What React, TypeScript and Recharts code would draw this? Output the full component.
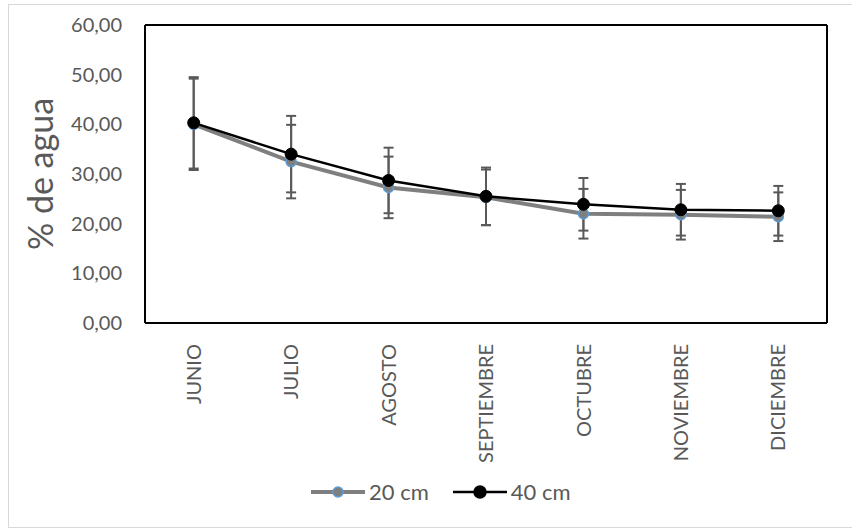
import { CartesianGrid, ErrorBar, Legend, Line, LineChart, XAxis, YAxis } from "recharts";

const months = ["JUNIO", "JULIO", "AGOSTO", "SEPTIEMBRE", "OCTUBRE", "NOVIEMBRE", "DICIEMBRE"];
const agua20 = [40.0, 32.5, 27.3, 25.3, 22.0, 21.8, 21.4];
const err20 = [9.2, 7.4, 6.2, 5.6, 5.0, 5.0, 4.9];
const agua40 = [40.3, 34.0, 28.7, 25.5, 23.9, 22.8, 22.6];
const err40 = [9.2, 7.7, 6.6, 5.8, 5.3, 5.2, 5.0];
const yTicks = [0, 10, 20, 30, 40, 50, 60];

const data = months.map((month, i) => ({
  month,
  v20: agua20[i],
  e20: err20[i],
  v40: agua40[i],
  e40: err40[i],
}));

const FONT = "Lato, sans-serif";
const TEXT = "#595959";

const legendStyle: Record<string, { line: string; width: number; fill: string; stroke: string; r: number }> = {
  v20: { line: "#7f7f7f", width: 4, fill: "#7f7f7f", stroke: "#5b9bd5", r: 5 },
  v40: { line: "#000000", width: 2.5, fill: "#000000", stroke: "#000000", r: 6 },
};

function MonthTick({ x, y, payload }: { x?: number; y?: number; payload?: { value: string } }) {
  const ty = (y ?? 0) + 19;
  return (
    <text
      x={x}
      y={ty}
      transform={`rotate(-90, ${x}, ${ty})`}
      textAnchor="end"
      dy="0.36em"
      fill={TEXT}
      fontSize={20}
      fontFamily={FONT}
    >
      {payload?.value}
    </text>
  );
}

function LegendContent({ payload }: { payload?: { value: string; dataKey?: string }[] }) {
  return (
    <div style={{ display: "flex", alignItems: "center", fontFamily: FONT, fontSize: 22, color: TEXT }}>
      {(payload ?? []).map((item) => {
        const s = legendStyle[String(item.dataKey)];
        return (
          <div key={item.value} style={{ display: "flex", alignItems: "center", marginRight: 23 }}>
            <svg width={56} height={24}>
              <line x1={1} y1={12} x2={55} y2={12} stroke={s.line} strokeWidth={s.width} />
              <circle cx={28} cy={12} r={s.r} fill={s.fill} stroke={s.stroke} strokeWidth={1.5} />
            </svg>
            <span style={{ marginLeft: 3 }}>{item.value}</span>
          </div>
        );
      })}
    </div>
  );
}

type GridArgs = { offset: { top: number; left: number; width: number; height: number } };

export default function App() {
  return (
    <div style={{ position: "absolute", left: 0, top: 0, width: 852, height: 528, overflow: "hidden", background: "#fff" }}>
      <div style={{ position: "absolute", left: 8, top: 4, width: 860, height: 522, border: "1px solid #d9d9d9" }} />
      <LineChart width={852} height={528} data={data} margin={{ top: 25, right: 25, bottom: 0, left: 0 }}>
        {/* plot frame */}
        <CartesianGrid
          stroke="#000"
          strokeWidth={2}
          horizontalCoordinatesGenerator={({ offset }: GridArgs) => [offset.top, offset.top + offset.height]}
          verticalCoordinatesGenerator={({ offset }: GridArgs) => [offset.left, offset.left + offset.width]}
        />
        <XAxis
          dataKey="month"
          height={205}
          padding={{ left: 48.7, right: 48.7 }}
          tickLine={false}
          tickSize={0}
          axisLine={{ stroke: "#000", strokeWidth: 2 }}
          tick={<MonthTick />}
          interval={0}
        />
        <YAxis
          width={145}
          domain={[0, 60]}
          ticks={yTicks}
          tickLine={false}
          tickSize={0}
          tickMargin={23}
          axisLine={{ stroke: "#000", strokeWidth: 2 }}
          tick={{ fill: TEXT, fontSize: 20, fontFamily: FONT }}
          tickFormatter={(v: number) => v.toFixed(2).replace(".", ",")}
          label={{
            content: () => (
              <text
                x={41}
                y={174}
                transform="rotate(-90, 41, 174)"
                textAnchor="middle"
                dy="0.35em"
                fill={TEXT}
                fontSize={34}
                fontFamily={FONT}
              >
                % de agua
              </text>
            ),
          }}
        />
        <Legend
          layout="horizontal"
          verticalAlign="middle"
          align="center"
          wrapperStyle={{ top: 478, left: 310, width: 400, height: 24 }}
          content={<LegendContent />}
        />
        <Line
          dataKey="v20"
          name="20 cm"
          stroke="#7f7f7f"
          strokeWidth={4}
          dot={{ r: 5, fill: "#7f7f7f", stroke: "#5b9bd5", strokeWidth: 1.5 }}
          isAnimationActive={false}
        >
          <ErrorBar dataKey="e20" direction="y" width={5} stroke="#595959" strokeWidth={2} />
        </Line>
        <Line
          dataKey="v40"
          name="40 cm"
          stroke="#000000"
          strokeWidth={2.5}
          dot={{ r: 6, fill: "#000", stroke: "#000", strokeWidth: 1 }}
          isAnimationActive={false}
        >
          <ErrorBar dataKey="e40" direction="y" width={5} stroke="#595959" strokeWidth={2} />
        </Line>
      </LineChart>
    </div>
  );
}
